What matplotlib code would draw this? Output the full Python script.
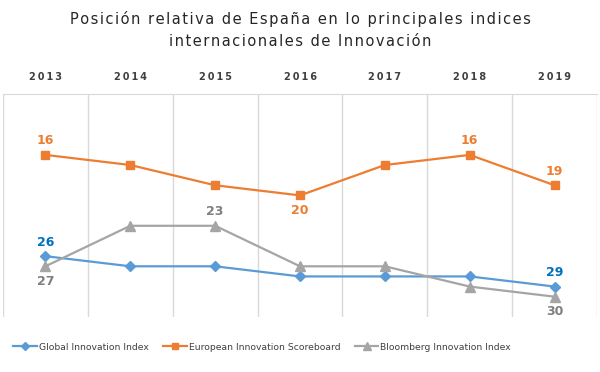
import matplotlib
matplotlib.use("Agg")
import matplotlib.pyplot as plt
import numpy as np

years = ["2013", "2014", "2015", "2016", "2017", "2018", "2019"]
global_idx = [26, 27, 27, 28, 28, 28, 29]
european_idx = [16, 17, 19, 20, 17, 16, 19]
bloomberg_idx = [27, 23, 23, 27, 27, 29, 30]

# which points carry a data label, and where (above / below)
global_labels = {0: "above", 6: "above"}
european_labels = {0: "above", 3: "below", 5: "above", 6: "above"}
bloomberg_labels = {0: "below", 2: "above", 6: "below"}

plt.rcParams['font.family'] = ['DejaVu Sans']

fig = plt.figure(figsize=(6, 3.72), dpi=100)
ax = fig.add_axes([0.005, 0.148, 0.99, 0.599])

x = np.arange(len(years))

series = [
    ("Global Innovation Index", global_idx, "#5B9BD5", "D", 5, "#0070C0", global_labels),
    ("European Innovation Scoreboard", european_idx, "#ED7D31", "s", 6, "#ED7D31", european_labels),
    ("Bloomberg Innovation Index", bloomberg_idx, "#A5A5A5", "^", 7, "#7F7F7F", bloomberg_labels),
]

for name, vals, col, mk, ms, lcol, labels in series:
    ax.plot(x, vals, color=col, lw=1.6, marker=mk, markersize=ms, label=name, zorder=3)
    for i, pos in labels.items():
        off = 10 if pos == "above" else -11
        ax.annotate(str(vals[i]), (x[i], vals[i]), xytext=(0, off),
                    textcoords="offset points", ha="center", va="center",
                    fontsize=9, fontweight="bold", color=lcol)

ax.set_xlim(-0.5, len(years) - 0.5)
ax.set_ylim(32, 10)

ax.xaxis.tick_top()
ax.set_xticks(x)
ax.set_xticklabels(["\u2009".join(y) for y in years], fontsize=7, fontweight="bold", color="#404040")
ax.tick_params(axis="x", length=0, pad=9)
ax.set_xticks(np.arange(-0.5, len(years)), minor=True)
ax.tick_params(axis="x", which="minor", length=0)
ax.grid(True, which="minor", axis="x", color="#D9D9D9", lw=1)
ax.set_yticks([])

for s in ["left", "right", "bottom"]:
    ax.spines[s].set_visible(False)
ax.spines["top"].set_color("#D9D9D9")

title = "Posición relativa de España en lo principales indices\ninternacionales de Innovación"
fig.text(0.5, 0.92, "\u200a".join(title).replace("\u200a\n\u200a", "\n"),
         ha="center", va="center", fontsize=10.5, color="#262626", linespacing=1.55)

fig.legend(loc="center", bbox_to_anchor=(0.437, 0.067), ncol=3, frameon=False,
           fontsize=6.7, labelcolor="#404040", handlelength=2.5, columnspacing=1.6,
           handletextpad=0.2, markerscale=0.8)

fig.savefig("out.png", dpi=100)
